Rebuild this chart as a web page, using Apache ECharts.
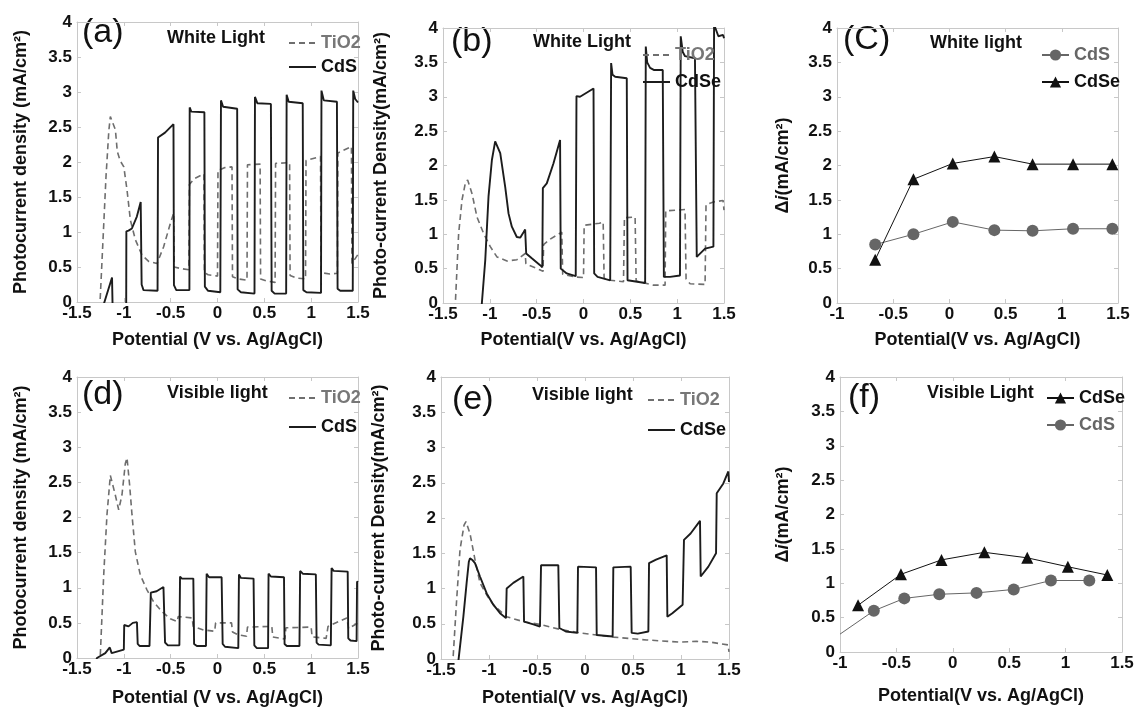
<!DOCTYPE html>
<html>
<head>
<meta charset="utf-8">
<script src="https://cdn.jsdelivr.net/npm/echarts@6/dist/echarts.min.js"></script>
<style>
html, body { margin: 0; padding: 0; background: #fff; }
#chart { width: 1140px; height: 713px; }
</style>
</head>
<body>
<div id="chart"></div>
<script>
// (a) white light, TiO2 vs CdS  [potential, current]
var aTiO2 = [[-1.26,-0.1],[-1.251,0.08],[-1.19,1.8],[-1.16,2.45],[-1.144,2.65],[-1.126,2.67],[-1.09,2.46],[-1.07,2.15],[-1.04,2.02],[-1.0,1.93],[-0.966,1.6],[-0.93,1.17],[-0.877,0.89],[-0.806,0.67],[-0.735,0.58],[-0.646,0.55],[-0.575,0.79],[-0.504,1.12],[-0.468,1.27],[-0.462,0.5],[-0.40,0.48],[-0.305,0.46],[-0.30,1.68],[-0.25,1.76],[-0.145,1.83],[-0.14,0.42],[-0.10,0.39],[0.0,0.37],[0.005,1.88],[0.08,1.92],[0.155,1.93],[0.16,0.36],[0.22,0.33],[0.315,0.31],[0.32,1.96],[0.455,1.97],[0.46,0.33],[0.52,0.3],[0.615,0.28],[0.62,1.98],[0.77,1.99],[0.775,0.38],[0.85,0.34],[0.94,0.33],[0.945,2.02],[1.1,2.08],[1.105,0.42],[1.2,0.4],[1.28,0.41],[1.285,2.13],[1.43,2.22],[1.435,0.55],[1.47,0.62],[1.5,0.68]];
var aCdS = [[-1.23,-0.1],[-1.126,0.35],[-1.118,-0.2],[-0.975,-0.2],[-0.973,1.01],[-0.95,1.02],[-0.914,1.05],[-0.861,1.22],[-0.82,1.43],[-0.81,0.25],[-0.79,0.17],[-0.64,0.16],[-0.635,2.35],[-0.56,2.42],[-0.47,2.54],[-0.465,0.24],[-0.44,0.17],[-0.30,0.17],[-0.297,2.78],[-0.28,2.72],[-0.14,2.71],[-0.135,0.22],[-0.1,0.16],[0.03,0.14],[0.037,2.88],[0.06,2.79],[0.21,2.76],[0.215,0.18],[0.25,0.14],[0.395,0.12],[0.40,2.93],[0.425,2.84],[0.57,2.83],[0.578,0.16],[0.61,0.12],[0.733,0.12],[0.738,2.96],[0.76,2.86],[0.91,2.84],[0.916,0.17],[0.95,0.14],[1.105,0.13],[1.11,3.02],[1.135,2.88],[1.275,2.86],[1.282,0.19],[1.31,0.16],[1.444,0.16],[1.449,3.02],[1.47,2.9],[1.5,2.85]];

// (b) white light, TiO2 vs CdSe
var bTiO2 = [[-1.372,-0.1],[-1.368,0],[-1.333,1.01],[-1.297,1.5],[-1.262,1.74],[-1.237,1.79],[-1.19,1.59],[-1.137,1.25],[-1.066,1.01],[-0.995,0.82],[-0.924,0.67],[-0.817,0.61],[-0.71,0.63],[-0.622,0.72],[-0.615,0.57],[-0.462,0.48],[-0.432,0.46],[-0.426,0.85],[-0.355,0.93],[-0.232,1.03],[-0.222,0.42],[-0.1,0.38],[0.0,0.37],[0.007,1.13],[0.17,1.16],[0.21,1.18],[0.22,0.36],[0.285,0.33],[0.427,0.31],[0.437,1.24],[0.551,1.25],[0.562,0.32],[0.747,0.26],[0.871,0.26],[0.878,1.34],[1.084,1.36],[1.095,0.35],[1.138,0.28],[1.298,0.27],[1.308,1.43],[1.387,1.47],[1.49,1.49],[1.5,1.35]];
var bCdSe = [[-1.09,-0.1],[-1.085,0],[-1.049,0.62],[-1.014,1.55],[-0.978,2.08],[-0.943,2.35],[-0.925,2.36],[-0.889,2.18],[-0.836,1.69],[-0.8,1.30],[-0.765,1.11],[-0.712,0.96],[-0.676,0.95],[-0.64,1.03],[-0.623,1.07],[-0.612,0.72],[-0.552,0.65],[-0.463,0.55],[-0.44,0.52],[-0.434,1.67],[-0.392,1.74],[-0.321,2.03],[-0.25,2.37],[-0.243,0.5],[-0.179,0.43],[-0.083,0.39],[-0.075,3.01],[-0.037,3.0],[0.107,3.12],[0.114,0.43],[0.15,0.38],[0.285,0.33],[0.295,3.49],[0.31,3.32],[0.338,3.29],[0.462,3.27],[0.47,0.33],[0.658,0.29],[0.665,3.73],[0.68,3.5],[0.711,3.42],[0.75,3.39],[0.846,3.39],[0.858,0.38],[0.924,0.38],[1.03,0.40],[1.038,3.88],[1.06,3.65],[1.084,3.59],[1.19,3.56],[1.209,0.67],[1.298,0.79],[1.387,0.82],[1.394,4.05],[1.44,3.88],[1.49,3.9],[1.5,3.85]];

// (c) white light, photocurrent difference
var cPotential = [-0.66, -0.32, 0.03, 0.40, 0.74, 1.10, 1.45];
var cCdS = [0.85, 1.00, 1.18, 1.06, 1.05, 1.08, 1.08];
var cCdSe = [0.63, 1.80, 2.03, 2.13, 2.02, 2.02, 2.02];

// (d) visible light, TiO2 vs CdS
var dTiO2 = [[-1.26,-0.1],[-1.251,0.04],[-1.215,1.18],[-1.18,2.04],[-1.144,2.6],[-1.126,2.6],[-1.091,2.32],[-1.055,2.11],[-1.02,2.32],[-0.984,2.77],[-0.966,2.85],[-0.938,2.46],[-0.913,2.04],[-0.877,1.51],[-0.824,1.18],[-0.753,0.97],[-0.682,0.80],[-0.593,0.66],[-0.504,0.56],[-0.43,0.52],[-0.42,0.59],[-0.27,0.57],[-0.26,0.45],[-0.15,0.40],[-0.03,0.38],[-0.02,0.5],[0.15,0.5],[0.16,0.37],[0.22,0.33],[0.31,0.31],[0.32,0.44],[0.58,0.45],[0.59,0.3],[0.72,0.27],[0.73,0.43],[1.0,0.44],[1.01,0.3],[1.16,0.28],[1.18,0.45],[1.38,0.57],[1.40,0.42],[1.5,0.5]];
var dCdS = [[-1.3,-0.05],[-1.287,0],[-1.198,0.07],[-1.15,0.15],[-1.14,0.16],[-1.13,0.07],[-1.0,0.12],[-0.996,0.47],[-0.95,0.45],[-0.904,0.5],[-0.86,0.51],[-0.852,0.2],[-0.83,0.17],[-0.726,0.17],[-0.712,0.93],[-0.65,0.95],[-0.577,1.01],[-0.56,0.22],[-0.53,0.18],[-0.407,0.18],[-0.40,1.16],[-0.38,1.13],[-0.258,1.13],[-0.25,0.2],[-0.22,0.17],[-0.123,0.17],[-0.116,1.2],[-0.09,1.15],[0.044,1.15],[0.055,0.2],[0.08,0.16],[0.222,0.14],[0.229,1.19],[0.25,1.14],[0.385,1.13],[0.393,0.18],[0.42,0.14],[0.54,0.14],[0.545,1.2],[0.57,1.16],[0.71,1.15],[0.716,0.2],[0.74,0.17],[0.875,0.17],[0.882,1.24],[0.91,1.2],[1.05,1.19],[1.058,0.22],[1.08,0.19],[1.21,0.18],[1.218,1.28],[1.24,1.24],[1.39,1.23],[1.396,0.28],[1.42,0.25],[1.485,0.24],[1.49,1.09],[1.5,1.08]];

// (e) visible light, TiO2 vs CdSe
var eTiO2 = [[-1.38,-0.1],[-1.372,0.06],[-1.337,0.84],[-1.302,1.55],[-1.26,1.90],[-1.24,1.95],[-1.198,1.78],[-1.146,1.41],[-1.094,1.08],[-1.02,0.9],[-0.95,0.76],[-0.816,0.60],[-0.642,0.53],[-0.469,0.49],[-0.26,0.42],[-0.052,0.37],[0.295,0.31],[0.642,0.27],[0.99,0.24],[1.163,0.25],[1.302,0.24],[1.49,0.2],[1.5,0.1]];
var eCdSe = [[-1.325,-0.1],[-1.319,-0.03],[-1.267,0.6],[-1.233,1.08],[-1.21,1.38],[-1.198,1.43],[-1.17,1.4],[-1.146,1.36],[-1.094,1.17],[-1.024,0.93],[-0.955,0.77],[-0.885,0.65],[-0.823,0.58],[-0.816,1.0],[-0.747,1.08],[-0.642,1.17],[-0.635,0.53],[-0.538,0.49],[-0.469,0.46],[-0.458,1.33],[-0.278,1.33],[-0.267,0.44],[-0.2,0.39],[-0.08,0.37],[-0.073,1.31],[0.115,1.30],[0.122,0.34],[0.288,0.32],[0.295,1.30],[0.476,1.31],[0.486,0.37],[0.55,0.36],[0.66,0.39],[0.667,1.36],[0.74,1.41],[0.851,1.47],[0.858,0.6],[0.91,0.65],[1.017,0.77],[1.031,1.69],[1.1,1.78],[1.198,1.96],[1.205,1.17],[1.285,1.31],[1.365,1.5],[1.372,2.35],[1.441,2.49],[1.493,2.66],[1.5,2.51]];

// (f) visible light, photocurrent difference
var fPotentialCdSe = [-0.84, -0.46, -0.10, 0.28, 0.66, 1.02, 1.37];
var fCdSe = [0.68, 1.13, 1.34, 1.45, 1.37, 1.24, 1.12];
var fPotentialCdS = [-1.0, -0.70, -0.43, -0.12, 0.21, 0.54, 0.87, 1.21];
var fCdS = [0.26, 0.60, 0.78, 0.84, 0.86, 0.91, 1.04, 1.04];

var FONT = '"Liberation Sans", Arial, sans-serif';
var FRAME = '#c8c8c8';
var SOLID = '#1c1c1c';
var GREY = '#6e6e6e';

var chart = echarts.init(document.getElementById('chart'));

var grids = [
    {left: 77, top: 22, width: 281, height: 280},
    {left: 443, top: 28, width: 281, height: 275},
    {left: 837, top: 28, width: 281, height: 275},
    {left: 77, top: 377, width: 281, height: 281},
    {left: 441, top: 377, width: 288, height: 282},
    {left: 840, top: 377, width: 282, height: 275}
];

var photo1 = 'Photocurrent density (mA/cm\u00b2)';
var photo2 = 'Photo-current Density(mA/cm\u00b2)';
var delta = '{d|\u0394}{i|i}{d|(mA/cm\u00b2)}';
var pot1 = 'Potential (V vs. Ag/AgCl)';
var pot2 = 'Potential(V vs. Ag/AgCl)';

// per panel: x min, x name, x name gap, y name, y name gap
var panels = [
    {xmin: -1.5, xname: pot1, xgap: 29, yname: photo1, ygap: 47},
    {xmin: -1.5, xname: pot2, xgap: 28, yname: photo2, ygap: 53},
    {xmin: -1, xname: pot2, xgap: 28, yname: delta, ygap: 45},
    {xmin: -1.5, xname: pot1, xgap: 31, yname: photo1, ygap: 47},
    {xmin: -1.5, xname: pot2, xgap: 30, yname: photo2, ygap: 53},
    {xmin: -1, xname: pot2, xgap: 35, yname: delta, ygap: 48}
];

var nameStyle = {
    color: '#111', fontSize: 18, fontWeight: 'bold', fontFamily: FONT,
    rich: {
        d: {color: '#111', fontSize: 18, fontWeight: 'bold', fontFamily: FONT},
        i: {color: '#111', fontSize: 18, fontWeight: 'bold', fontStyle: 'italic', fontFamily: FONT}
    }
};
var labelStyle = {color: '#111', fontSize: 17, fontWeight: 'bold', fontFamily: FONT};

var xAxis = [], yAxis = [];
panels.forEach(function (p, i) {
    xAxis.push({
        type: 'value', gridIndex: i, min: p.xmin, max: 1.5, interval: 0.5, position: 'bottom',
        axisLine: {onZero: false, lineStyle: {color: FRAME}},
        axisTick: {inside: true, length: 4, lineStyle: {color: FRAME}},
        splitLine: {show: false},
        axisLabel: Object.assign({margin: 3}, labelStyle),
        name: p.xname, nameLocation: 'middle', nameGap: p.xgap, nameTextStyle: nameStyle
    });
    xAxis.push({
        type: 'value', gridIndex: i, min: p.xmin, max: 1.5, interval: 0.5, position: 'top',
        axisLine: {onZero: false, lineStyle: {color: FRAME}},
        axisTick: {inside: true, length: 4, lineStyle: {color: FRAME}},
        splitLine: {show: false}, axisLabel: {show: false}
    });
    yAxis.push({
        type: 'value', gridIndex: i, min: 0, max: 4, interval: 0.5, position: 'left',
        axisLine: {show: true, onZero: false, lineStyle: {color: FRAME}},
        axisTick: {show: true, inside: true, length: 4, lineStyle: {color: FRAME}},
        splitLine: {show: false},
        axisLabel: Object.assign({margin: 5}, labelStyle),
        name: p.yname, nameLocation: 'middle', nameGap: p.ygap, nameTextStyle: nameStyle
    });
    yAxis.push({
        type: 'value', gridIndex: i, min: 0, max: 4, interval: 0.5, position: 'right',
        axisLine: {show: true, onZero: false, lineStyle: {color: FRAME}},
        axisTick: {show: true, inside: true, length: 4, lineStyle: {color: FRAME}},
        splitLine: {show: false}, axisLabel: {show: false}
    });
});

function curve(name, data, gi, dashed) {
    var color = dashed ? GREY : SOLID;
    return {
        name: name, type: 'line', data: data,
        xAxisIndex: gi * 2, yAxisIndex: gi * 2,
        symbol: 'none', clip: true,
        itemStyle: {color: color},
        lineStyle: dashed
            ? {color: color, width: 1.6, type: [6, 4]}
            : {color: color, width: 1.9}
    };
}

function pairs(xs, ys) {
    return xs.map(function (x, k) { return [x, ys[k]]; });
}

function markers(name, xs, ys, gi, shape, color, noFirst) {
    var data = pairs(xs, ys).map(function (v, k) {
        return (noFirst && k === 0) ? {value: v, symbol: 'none'} : v;
    });
    return {
        name: name, type: 'line', data: data,
        xAxisIndex: gi * 2, yAxisIndex: gi * 2,
        symbol: shape, symbolSize: 12,
        itemStyle: {color: color},
        lineStyle: {color: color, width: 1}
    };
}

var series = [
    curve('TiO2#a', aTiO2, 0, true),
    curve('CdS#a', aCdS, 0, false),
    curve('TiO2#b', bTiO2, 1, true),
    curve('CdSe#b', bCdSe, 1, false),
    markers('CdS#c', cPotential, cCdS, 2, 'circle', '#666', false),
    markers('CdSe#c', cPotential, cCdSe, 2, 'triangle', '#111', false),
    curve('TiO2#d', dTiO2, 3, true),
    curve('CdS#d', dCdS, 3, false),
    curve('TiO2#e', eTiO2, 4, true),
    curve('CdSe#e', eCdSe, 4, false),
    markers('CdSe#f', fPotentialCdSe, fCdSe, 5, 'triangle', '#111', false),
    markers('CdS#f', fPotentialCdS, fCdS, 5, 'circle', '#666', true)
];

function legend(names, colors, left, top, gap, lineOnly) {
    var lg = {
        orient: 'vertical', left: left, top: top, itemGap: gap,
        itemWidth: 27, itemHeight: 14, selectedMode: false,
        data: names.map(function (n, k) {
            return {name: n, textStyle: {color: colors[k]}};
        }),
        formatter: function (n) { return n.split('#')[0]; },
        textStyle: {fontSize: 18, fontWeight: 'bold', fontFamily: FONT}
    };
    if (lineOnly) lg.itemStyle = {opacity: 0};
    return lg;
}

var legends = [
    legend(['TiO2#a', 'CdS#a'], ['#777', '#111'], 283, 29, 6, true),
    legend(['TiO2#b', 'CdSe#b'], ['#777', '#111'], 637, 41, 9, true),
    legend(['CdS#c', 'CdSe#c'], ['#666', '#111'], 1036, 41, 9, false),
    legend(['TiO2#d', 'CdS#d'], ['#777', '#111'], 283, 384, 11, true),
    legend(['TiO2#e', 'CdSe#e'], ['#777', '#111'], 642, 386, 12, true),
    legend(['CdSe#f', 'CdS#f'], ['#111', '#666'], 1041, 384, 9, false)
];

function tag(text, left, top) {
    return {type: 'text', left: left, top: top,
        style: {text: text, fill: '#111', font: '34px ' + FONT}};
}
function note(text, left, top) {
    return {type: 'text', left: left, top: top,
        style: {text: text, fill: '#111', font: 'bold 18px ' + FONT}};
}

var graphics = [
    tag('(a)', 82, 16), tag('(b)', 451, 25), tag('(C)', 843, 23),
    tag('(d)', 82, 378), tag('(e)', 452, 383), tag('(f)', 848, 381),
    note('White Light', 167, 29), note('White Light', 533, 33), note('White light', 930, 34),
    note('Visible light', 167, 384), note('Visible light', 532, 386), note('Visible Light', 927, 384)
];

chart.setOption({
    animation: false,
    backgroundColor: '#fff',
    grid: grids,
    xAxis: xAxis,
    yAxis: yAxis,
    legend: legends,
    graphic: graphics,
    series: series
});

window.onresize = chart.resize;
</script>
</body>
</html>
